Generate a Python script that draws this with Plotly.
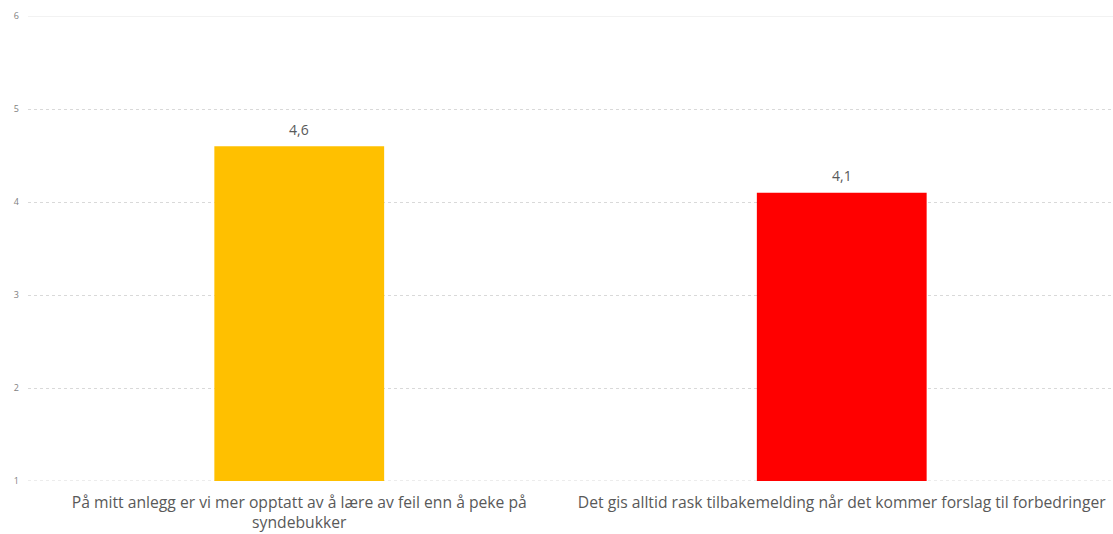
import plotly.graph_objects as go

categories = [
    "På mitt anlegg er vi mer opptatt av å lære av feil enn å peke på<br>syndebukker",
    "Det gis alltid rask tilbakemelding når det kommer forslag til forbedringer",
]
values = [4.6, 4.1]
value_labels = ["4,6", "4,1"]
colors = ["#FFC000", "#FF0000"]
y_ticks = [1, 2, 3, 4, 5, 6]

fig = go.Figure(
    go.Bar(
        x=categories,
        y=values,
        marker=dict(color=colors, line=dict(width=0)),
        width=0.313,
        hoverinfo="x+y",
    )
)

for cat, val, lab in zip(categories, values, value_labels):
    fig.add_annotation(
        x=cat, y=val, text=lab, showarrow=False,
        yanchor="middle", yshift=17,
        font=dict(family="Open Sans", size=14, color="#595959"),
    )

# grid lines at the range edges (bottom dotted, top solid light)
fig.add_hline(y=y_ticks[0], line=dict(color="#d9d9d9", width=1, dash="dot"), layer="below")
fig.add_hline(y=y_ticks[-1], line=dict(color="#e6e6e6", width=1), layer="below")

fig.update_layout(
    width=1113,
    height=534,
    margin=dict(l=28, r=0, t=16, b=53),
    paper_bgcolor="white",
    plot_bgcolor="white",
    separators=", ",
    showlegend=False,
)
fig.update_xaxes(
    showgrid=False,
    showline=False,
    ticks="",
    tickfont=dict(family="Open Sans", size=15.7, color="#595959"),
    ticklabelstandoff=10,
)
fig.update_yaxes(
    range=[1, 6],
    tickvals=y_ticks,
    showgrid=True,
    gridcolor="#d9d9d9",
    griddash="dot",
    gridwidth=1,
    zeroline=False,
    showline=False,
    ticks="",
    tickfont=dict(family="Open Sans", size=9, color="#7f7f7f"),
    ticklabelstandoff=8,
)

fig.write_html("out.html")
